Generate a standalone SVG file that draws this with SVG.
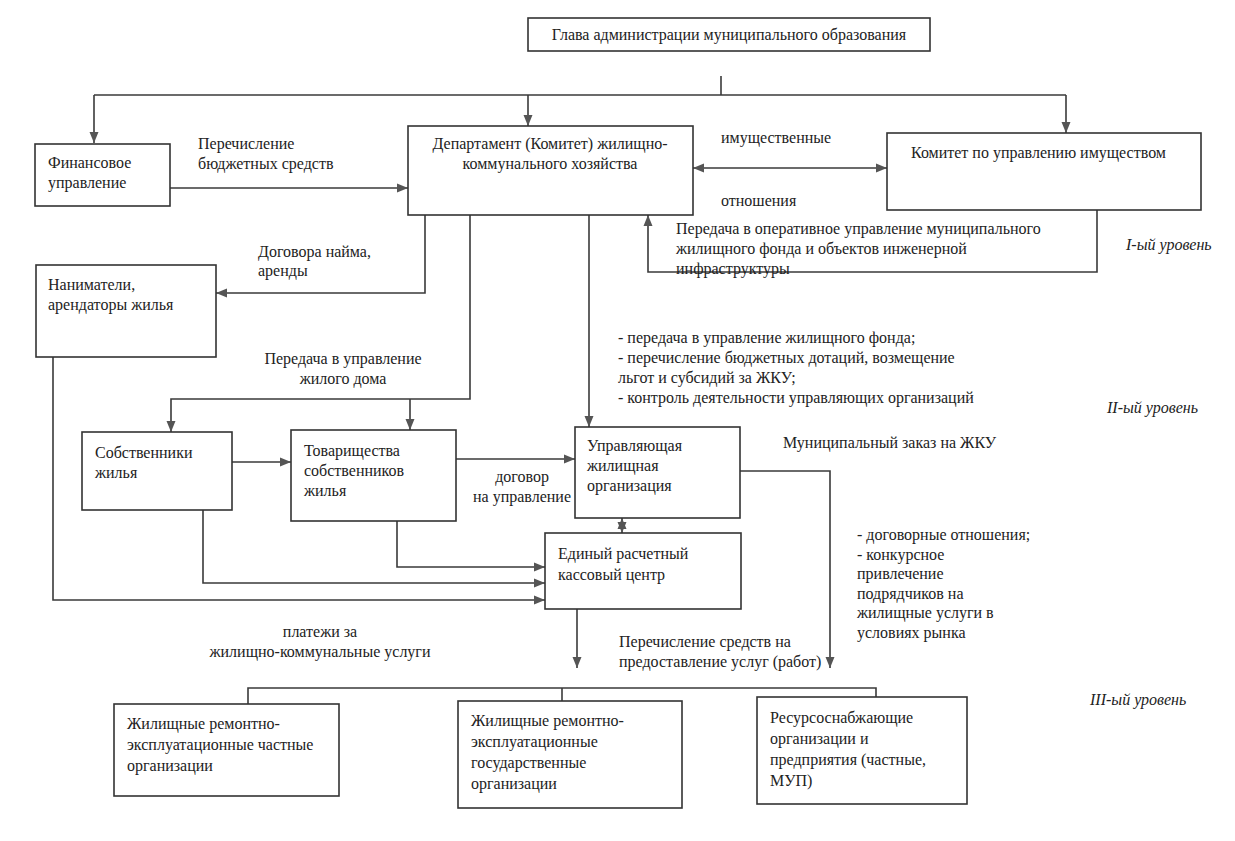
<svg xmlns="http://www.w3.org/2000/svg" width="1235" height="841" viewBox="0 0 1235 841" font-family="'Liberation Serif', 'DejaVu Serif', 'Times New Roman', serif">
<style>
.box{fill:#fff;stroke:#333;stroke-width:1.6}
.ln{fill:none;stroke:#3a3a3a;stroke-width:1.6}
.arr{marker-end:url(#ah)}
.dbl{marker-end:url(#ah);marker-start:url(#ahs)}
text{font-family:'Liberation Serif','DejaVu Serif','Times New Roman',serif;font-size:16px;fill:#222}
.it{font-style:italic}
.c{text-anchor:middle}
</style>
<defs>
<marker id="ah" markerUnits="userSpaceOnUse" markerWidth="12" markerHeight="10" refX="11" refY="5" orient="auto">
<path d="M0,0.5 L11,5 L0,9.5 z" fill="#555"/>
</marker>
<marker id="ahs" markerUnits="userSpaceOnUse" markerWidth="12" markerHeight="10" refX="11" refY="5" orient="auto-start-reverse">
<path d="M0,0.5 L11,5 L0,9.5 z" fill="#555"/>
</marker>
</defs>
<rect width="1235" height="841" fill="#fff"/>

<g id="connectors">
<path class="ln" d="M721,76 V95"/>
<path class="ln" d="M94,95 H1066"/>
<path class="ln arr" d="M94,95 V143"/>
<path class="ln arr" d="M528,95 V126"/>
<path class="ln arr" d="M1066,95 V133"/>
<path class="ln arr" d="M170,188 H408"/>
<path class="ln dbl" d="M693,168 H887"/>
<path class="ln arr" d="M1097,210 V272 H648 V215"/>
<path class="ln arr" d="M425,215 V293 H216"/>
<path class="ln arr" d="M470,215 V399 H171 V432"/>
<path class="ln arr" d="M410,399 V430"/>
<path class="ln arr" d="M589,215 V427"/>
<path class="ln arr" d="M232,462 H291"/>
<path class="ln arr" d="M456,459 H575"/>
<path class="ln dbl" d="M622,518 V533"/>
<path class="ln arr" d="M397,521 V567 H545"/>
<path class="ln arr" d="M203,510 V583 H545"/>
<path class="ln arr" d="M53,357 V600 H545"/>
<path class="ln arr" d="M740,471 H830 V668"/>
<path class="ln arr" d="M577,609 V668"/>
<path class="ln" d="M248,705 V688 H876 V697"/>
<path class="ln" d="M562,688 V701"/>
</g>

<g id="glava">
<rect class="box" x="528" y="18" width="402" height="33"/>
<text x="729" y="40" class="c">Глава администрации муниципального образования</text>
</g>
<g id="finansovoe">
<rect class="box" x="35" y="144" width="135" height="62"/>
<text x="48" y="168">Финансовое</text>
<text x="48" y="188">управление</text>
</g>
<g id="departament">
<rect class="box" x="408" y="126" width="285" height="89"/>
<text x="550" y="149" class="c">Департамент (Комитет) жилищно-</text>
<text x="550" y="169" class="c">коммунального хозяйства</text>
</g>
<g id="komitet">
<rect class="box" x="887" y="133" width="314" height="77"/>
<text x="911" y="158">Комитет по управлению имуществом</text>
</g>
<g id="nanimateli">
<rect class="box" x="36" y="265" width="180" height="92"/>
<text x="48" y="290">Наниматели,</text>
<text x="48" y="310">арендаторы жилья</text>
</g>
<g id="sobstvenniki">
<rect class="box" x="82" y="432" width="150" height="78"/>
<text x="95" y="458">Собственники</text>
<text x="95" y="478">жилья</text>
</g>
<g id="tovarishchestva">
<rect class="box" x="291" y="430" width="165" height="91"/>
<text x="304" y="456">Товарищества</text>
<text x="304" y="476">собственников</text>
<text x="304" y="496">жилья</text>
</g>
<g id="upravlyayushchaya">
<rect class="box" x="575" y="427" width="165" height="91"/>
<text x="587" y="451">Управляющая</text>
<text x="587" y="471">жилищная</text>
<text x="587" y="491">организация</text>
</g>
<g id="erkc">
<rect class="box" x="545" y="533" width="196" height="76"/>
<text x="558" y="559">Единый расчетный</text>
<text x="558" y="580">кассовый центр</text>
</g>
<g id="chastnye">
<rect class="box" x="114" y="704" width="225" height="92"/>
<text x="127" y="729">Жилищные ремонтно-</text>
<text x="127" y="750">эксплуатационные частные</text>
<text x="127" y="771">организации</text>
</g>
<g id="gosudarstvennye">
<rect class="box" x="458" y="701" width="224" height="107"/>
<text x="471" y="726">Жилищные ремонтно-</text>
<text x="471" y="747">эксплуатационные</text>
<text x="471" y="768">государственные</text>
<text x="471" y="789">организации</text>
</g>
<g id="resursy">
<rect class="box" x="757" y="697" width="210" height="107"/>
<text x="770" y="723">Ресурсоснабжающие</text>
<text x="770" y="744">организации и</text>
<text x="770" y="765">предприятия (частные,</text>
<text x="770" y="786">МУП)</text>
</g>

<g id="labels">
<text x="198" y="149">Перечисление</text>
<text x="198" y="169">бюджетных средств</text>
<text x="721" y="143">имущественные</text>
<text x="721" y="206">отношения</text>
<text x="676" y="234">Передача в оперативное управление муниципального</text>
<text x="676" y="254">жилищного фонда и объектов инженерной</text>
<text x="676" y="274">инфраструктуры</text>
<text x="1126" y="250" class="it">I-ый уровень</text>
<text x="258" y="257">Договора найма,</text>
<text x="258" y="276">аренды</text>
<text x="343" y="364" class="c">Передача в управление</text>
<text x="343" y="384" class="c">жилого дома</text>
<text x="618" y="343">- передача в управление жилищного фонда;</text>
<text x="618" y="363">- перечисление бюджетных дотаций, возмещение</text>
<text x="618" y="383">льгот и субсидий за ЖКУ;</text>
<text x="618" y="403">- контроль деятельности управляющих организаций</text>
<text x="1107" y="413" class="it">II-ый уровень</text>
<text x="783" y="448">Муниципальный заказ на ЖКУ</text>
<text x="522" y="482" class="c">договор</text>
<text x="522" y="502" class="c">на управление</text>
<text x="857" y="540">- договорные отношения;</text>
<text x="857" y="560">- конкурсное</text>
<text x="857" y="579">привлечение</text>
<text x="857" y="599">подрядчиков на</text>
<text x="857" y="618">жилищные услуги в</text>
<text x="857" y="638">условиях рынка</text>
<text x="320" y="637" class="c">платежи за</text>
<text x="320" y="657" class="c">жилищно-коммунальные услуги</text>
<text x="619" y="647">Перечисление средств на</text>
<text x="619" y="667">предоставление услуг (работ)</text>
<text x="1090" y="705" class="it">III-ый уровень</text>
</g>
</svg>
